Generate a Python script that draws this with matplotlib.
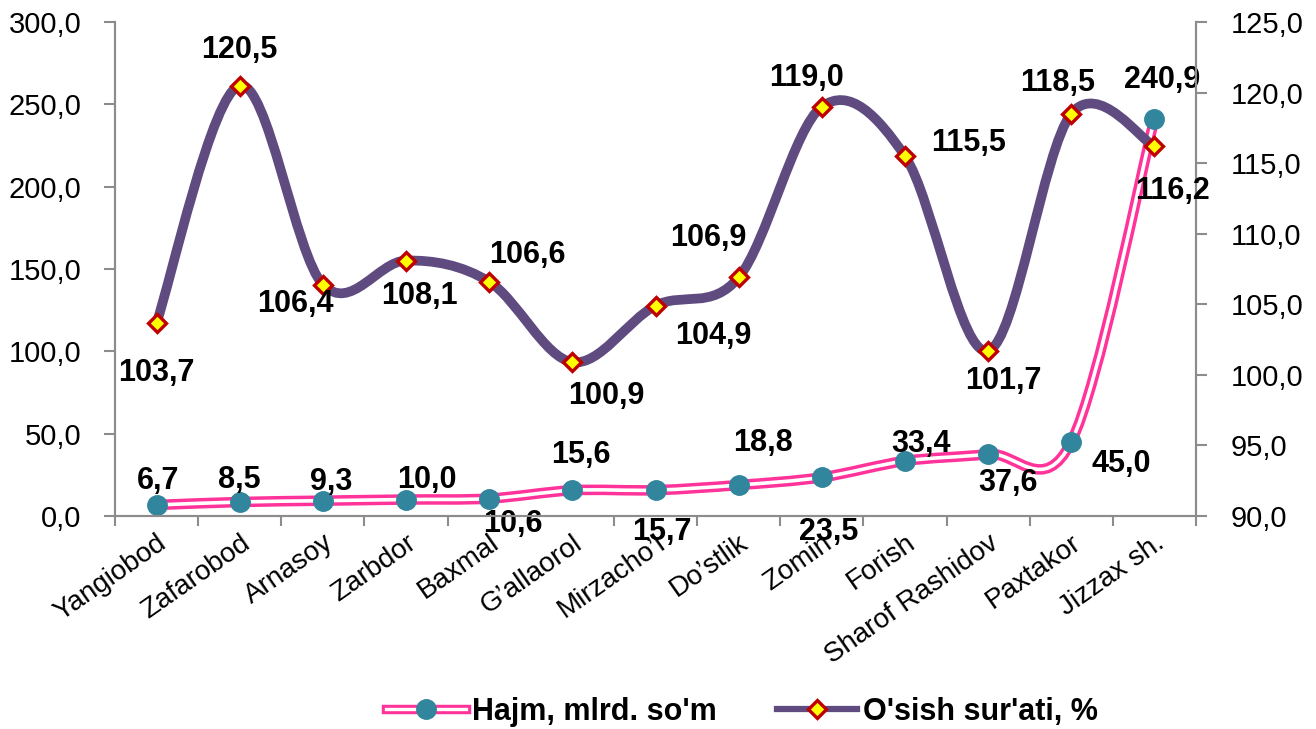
import matplotlib
matplotlib.use("Agg")
import matplotlib.pyplot as plt
import numpy as np
from matplotlib.path import Path
from matplotlib.patches import PathPatch
from matplotlib.lines import Line2D
from matplotlib.legend_handler import HandlerTuple
from matplotlib.ticker import FuncFormatter, FixedLocator

plt.rcParams['font.family'] = ['Liberation Sans', 'DejaVu Sans']

categories = ["Yangiobod", "Zafarobod", "Arnasoy", "Zarbdor", "Baxmal", "G\u2019allaorol",
              "Mirzacho\u2019l", "Do\u2019stlik", "Zomin", "Forish", "Sharof Rashidov",
              "Paxtakor", "Jizzax sh."]
hajm = [6.7, 8.5, 9.3, 10.0, 10.6, 15.6, 15.7, 18.8, 23.5, 33.4, 37.6, 45.0, 240.9]
osish = [103.7, 120.5, 106.4, 108.1, 106.6, 100.9, 104.9, 106.9, 119.0, 115.5, 101.7, 118.5, 116.2]
series_names = ["Hajm, mlrd. so'm", "O'sish sur'ati, %"]

# label offsets in pixels (dx, dy) relative to each point
hajm_off = [(2, 24), (0, 22), (8, 19), (21, 20), (24, -25), (9, 35), (6, -42),
            (24, 42), (7, -55), (16, 17), (20, -29), (50, -22), (8, 39)]
osish_off = [(0, -50), (0, 36), (-28, -19), (13, -35), (38, 27), (34, -34), (58, -30),
             (-30, 39), (-15, 29), (64, 13), (15, -30), (-14, 31), (18, -45)]

PURPLE = "#5F4B80"
PINK = "#FF3399"
TEAL = "#31859C"
GRAY = "#8C8C8C"


def smooth_path(xs, ys):
    pts = np.column_stack([xs, ys]).astype(float)
    n = len(pts)
    verts = [pts[0]]
    codes = [Path.MOVETO]
    for i in range(n - 1):
        p0 = pts[i - 1] if i > 0 else pts[i]
        p1 = pts[i]
        p2 = pts[i + 1]
        p3 = pts[i + 2] if i + 2 < n else pts[i + 1]
        c1 = p1 + (p2 - p0) / 6.0
        c2 = p2 - (p3 - p1) / 6.0
        verts += [c1, c2, p2]
        codes += [Path.CURVE4] * 3
    return Path(verts, codes)


fig = plt.figure(figsize=(13.16, 7.29), dpi=100)
ax = fig.add_axes([115 / 1316, 1 - 516 / 729, (1196 - 115) / 1316, (516 - 22) / 729])
ax2 = ax.twinx()

x = np.arange(len(categories))

# primary series: pink double line with teal markers
p = smooth_path(x, hajm)
ax.add_patch(PathPatch(p, fill=False, ec=PINK, lw=7.6, capstyle='round', joinstyle='round', zorder=2))
ax.add_patch(PathPatch(p, fill=False, ec='white', lw=2.6, capstyle='round', joinstyle='round', zorder=3))
ax.plot(x, hajm, ls='none', marker='o', ms=14, mfc=TEAL, mec=TEAL, zorder=4)

# secondary series
q = smooth_path(x, osish)
ax2.add_patch(PathPatch(q, fill=False, ec=PURPLE, lw=7, capstyle='round', joinstyle='round', zorder=2))
ax2.plot(x, osish, ls='none', marker='D', ms=9, mfc='#FFFF00', mec='#C00000', mew=2.4, zorder=4)

ax.set_xlim(-0.5, len(categories) - 0.5)
ax.set_ylim(0, 300)
ax2.set_ylim(90, 125)
ax.set_yticks(np.arange(0, 301, 50))
ax2.set_yticks(np.arange(90, 126, 5))
fmt = FuncFormatter(lambda v, pos: f"{v:.1f}".replace('.', ','))
ax.yaxis.set_major_formatter(fmt)
ax2.yaxis.set_major_formatter(fmt)

ax.xaxis.set_major_locator(FixedLocator(np.arange(-0.5, len(categories), 1.0)))
ax.xaxis.set_major_formatter(FuncFormatter(lambda v, pos: ""))
ax.xaxis.set_minor_locator(FixedLocator(x))
ax.set_xticklabels(categories, minor=True, rotation=35, ha='right', va='top',
                   rotation_mode='anchor', fontsize=20)
ax.tick_params(axis='x', which='minor', length=0, pad=10)
ax.tick_params(axis='x', which='major', length=7, width=1.5, color=GRAY, direction='out')
ax.tick_params(axis='y', length=8, width=1.5, color=GRAY, direction='out', labelsize=21, pad=16)
ax2.tick_params(axis='y', length=8, width=1.5, color=GRAY, direction='out', labelsize=21, pad=17)

for a in (ax, ax2):
    a.spines['top'].set_visible(False)
    for s in ('left', 'right', 'bottom'):
        a.spines[s].set_color(GRAY)
        a.spines[s].set_linewidth(1.5)

for xi, v, (dx, dy) in zip(x, hajm, hajm_off):
    ax.annotate(f"{v:.1f}".replace('.', ','), (xi, v), xytext=(dx * 0.72, dy * 0.72),
                textcoords='offset points', ha='center', va='center', fontsize=22,
                fontweight='bold', zorder=6)
for xi, v, (dx, dy) in zip(x, osish, osish_off):
    ax2.annotate(f"{v:.1f}".replace('.', ','), (xi, v), xytext=(dx * 0.72, dy * 0.72),
                 textcoords='offset points', ha='center', va='center', fontsize=22,
                 fontweight='bold', zorder=6)

h1 = (Line2D([], [], color=PINK, lw=6.8), Line2D([], [], color='white', lw=2.4),
      Line2D([], [], ls='none', marker='o', ms=14, mfc=TEAL, mec=TEAL))
h2 = Line2D([], [], color=PURPLE, lw=4.5, marker='D', ms=9, mfc='#FFFF00', mec='#C00000', mew=2.4)
fig.legend([h1, h2], series_names, loc='center', bbox_to_anchor=(742 / 1316, 1 - 712 / 729),
           ncol=2, frameon=False, handler_map={tuple: HandlerTuple(ndivide=1)},
           prop={'size': 22, 'weight': 'bold'}, handlelength=2.6, columnspacing=2.0,
           handletextpad=0.2)

fig.savefig("out.png", dpi=100)
